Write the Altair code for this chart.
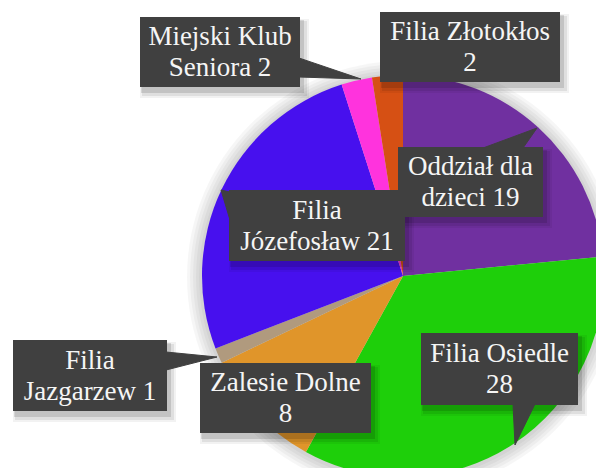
import altair as alt
import pandas as pd

# ---- data ----
categories = ["Oddział dla dzieci", "Filia Osiedle", "Zalesie Dolne", "Filia Jazgarzew",
              "Filia Józefosław", "Miejski Klub Seniora", "Filia Złotokłos"]
values = [19, 28, 8, 1, 21, 2, 2]
colors = ["#7030A0", "#1ECF0A", "#E0952A", "#B09A7E", "#4710EE", "#FF33DD", "#D65014"]
label_lines = [
    ["Oddział dla", "dzieci 19"],
    ["Filia Osiedle", "28"],
    ["Zalesie Dolne", "8"],
    ["Filia", "Jazgarzew 1"],
    ["Filia", "Józefosław 21"],
    ["Miejski Klub", "Seniora 2"],
    ["Filia Złotokłos", "2"],
]

# ---- layout (pixels inside the chart) ----
W, H = 588, 460
OFF = 8
CX, CY, R = 403 - OFF, 276 - OFF, 201
box_x0 = [398, 421, 200, 13, 229, 140, 380]
box_x1 = [543, 578, 371, 167, 405, 300, 560]
box_y0 = [147, 333, 363, 340, 190, 17, 12]
box_y1 = [217, 405, 433, 411, 261, 87, 82]
# pointer triangles (page coords), None where not visible
pointers = [
    [(483, 148), (537, 128), (523, 148)],
    [(513, 404), (515, 445), (535, 404)],
    None,
    [(166, 352), (217, 357), (166, 370)],
    [(230, 192), (221, 190), (230, 220)],
    [(299, 58), (361, 79), (299, 77)],
    None,
]

pie_df = pd.DataFrame({"cat": categories, "value": values, "idx": list(range(len(values)))})

boxes = pd.DataFrame({
    "x0": [v - OFF for v in box_x0], "x1": [v - OFF for v in box_x1],
    "y0": [v - OFF for v in box_y0], "y1": [v - OFF for v in box_y1],
})
boxes["xc"] = (boxes["x0"] + boxes["x1"]) / 2
boxes["ty"] = (boxes["y0"] + boxes["y1"]) / 2 - 15
boxes["label"] = label_lines

prow = []
for i, tri in enumerate(pointers):
    if tri is None:
        continue
    for k, (px, py) in enumerate(tri + [tri[0]]):
        prow.append({"pid": i, "ord": k, "px": px - OFF, "py": py - OFF})
ptr_df = pd.DataFrame(prow)

xs = alt.Scale(domain=[0, W], nice=False, zero=False)
ys = alt.Scale(domain=[0, H], nice=False, zero=False, reverse=True)
one = pd.DataFrame({"k": [0]})

glows = [
    alt.Chart(one).mark_arc(theta=0, theta2=6.2832, radius=R + d, color="#000000", opacity=0.035)
    .encode(x=alt.value(CX), y=alt.value(CY + 1))
    for d in (3, 6, 9, 12, 15)
]

pie = alt.Chart(pie_df).mark_arc(radius=R).encode(
    theta=alt.Theta("value:Q", stack=True),
    color=alt.Color("cat:N", scale=alt.Scale(domain=categories, range=colors), legend=None),
    order=alt.Order("idx:Q"),
    x=alt.value(CX), y=alt.value(CY),
)

def shadow_layer(dx0, dx1, dy0, dy1, op):
    d = boxes.assign(sx0=boxes["x0"] + dx0, sx1=boxes["x1"] + dx1,
                     sy0=boxes["y0"] + dy0, sy1=boxes["y1"] + dy1)
    return alt.Chart(d).mark_rect(color="#000000", opacity=op).encode(
        x=alt.X("sx0:Q", scale=xs, axis=None), x2="sx1:Q",
        y=alt.Y("sy0:Q", scale=ys, axis=None), y2="sy1:Q",
    )

shadows = [shadow_layer(1, 4, 3, 6, 0.12), shadow_layer(2, 7, 4, 9, 0.08),
           shadow_layer(0, 9, 2, 11, 0.05)]

ptr = alt.Chart(ptr_df).mark_line(fill="#404040", stroke="#404040", strokeWidth=1).encode(
    x=alt.X("px:Q", scale=xs, axis=None),
    y=alt.Y("py:Q", scale=ys, axis=None),
    detail="pid:N",
    order="ord:Q",
)

box = alt.Chart(boxes).mark_rect(color="#404040").encode(
    x=alt.X("x0:Q", scale=xs, axis=None), x2="x1:Q",
    y=alt.Y("y0:Q", scale=ys, axis=None), y2="y1:Q",
)

txt = alt.Chart(boxes).mark_text(
    font="Liberation Serif", fontSize=27, color="#F5F5F5", lineHeight=31,
    align="center", baseline="middle",
).encode(
    x=alt.X("xc:Q", scale=xs, axis=None),
    y=alt.Y("ty:Q", scale=ys, axis=None),
    text="label",
)

chart = alt.layer(*glows, pie, *shadows, ptr, box, txt).properties(
    width=W, height=H, padding=0, autosize=alt.AutoSizeParams(type="none"),
    background="#FFFFFF",
).configure_view(stroke=None, fill=None)

chart.save("out.html", embed_options={"renderer": "svg", "actions": False})
